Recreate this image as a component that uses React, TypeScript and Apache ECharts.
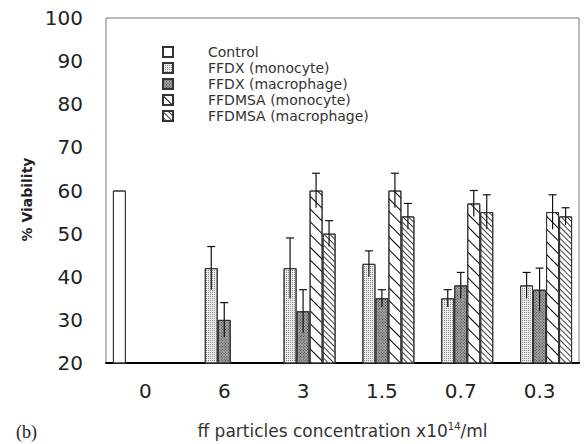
import React, { useEffect, useRef } from "react";
import * as echarts from "echarts";

const categories = ["0", "6", "3", "1.5", "0.7", "0.3"];
const seriesNames = [
  "Control",
  "FFDX (monocyte)",
  "FFDX (macrophage)",
  "FFDMSA (monocyte)",
  "FFDMSA (macrophage)",
];
const controlVals = [60, null, null, null, null, null];
const ffdxMonoVals = [null, 42, 42, 43, 35, 38];
const ffdxMacroVals = [null, 30, 32, 35, 38, 37];
const ffdmsaMonoVals = [null, null, 60, 60, 57, 55];
const ffdmsaMacroVals = [null, null, 50, 54, 55, 54];

const ffdxMonoErr = [0, 5, 7, 3, 2, 3];
const ffdxMacroErr = [0, 4, 5, 2, 3, 5];
const ffdmsaMonoErr = [0, 0, 4, 4, 3, 4];
const ffdmsaMacroErr = [0, 0, 3, 3, 4, 2];

const FONT = "DejaVu Sans";

export default function App() {
  const ref = useRef<HTMLDivElement>(null);
  useEffect(() => {
    if (!ref.current) return;
    const chart = echarts.init(ref.current, undefined, { renderer: "svg" });
    const vals = [controlVals, ffdxMonoVals, ffdxMacroVals, ffdmsaMonoVals, ffdmsaMacroVals];
    const errs = [null, ffdxMonoErr, ffdxMacroErr, ffdmsaMonoErr, ffdmsaMacroErr];
    const errData: number[][] = [];
    for (let k = 1; k < 5; k++) {
      vals[k].forEach((v, ci) => {
        const e = (errs[k] as number[])[ci];
        if (v != null && e > 0) errData.push([ci, k, v as number, e]);
      });
    }
    const styles: any[] = [
      { color: "#ffffff", decal: { symbol: "none" } },
      {
        color: "#ececec",
        decal: { symbol: "rect", symbolSize: 1, dashArrayX: [1, 1], dashArrayY: [1, 1], color: "#8a8a8a" },
      },
      {
        color: "#a8a8a8",
        decal: { symbol: "rect", symbolSize: 1, dashArrayX: [1, 1], dashArrayY: [1, 1], color: "#3a3a3a" },
      },
      {
        color: "#ffffff",
        decal: { symbol: "rect", dashArrayX: [1, 0], dashArrayY: [1, 8], rotation: Math.PI / 4, color: "#000" },
      },
      {
        color: "#ffffff",
        decal: { symbol: "rect", dashArrayX: [1, 0], dashArrayY: [1, 3], rotation: Math.PI / 4, color: "#444" },
      },
    ];
    const barSeries = seriesNames.map((name, k) => ({
      name,
      type: "bar",
      data: vals[k].map((v) => (v == null ? "-" : v)),
      barWidth: 13,
      barGap: "0%",
      itemStyle: { ...styles[k], borderColor: "#333", borderWidth: 1 },
      z: 2,
    }));
    chart.setOption({
      animation: false,
      aria: { enabled: true, decal: { show: true } },
      grid: {
        left: 106,
        top: 18,
        right: 6,
        bottom: 75,
        show: true,
        borderColor: "#777",
        borderWidth: 1,
        backgroundColor: "transparent",
      },
      legend: {
        data: seriesNames,
        orient: "vertical",
        left: 157,
        top: 40,
        itemWidth: 10,
        itemHeight: 10,
        itemGap: 2,
        icon: "rect",
        textStyle: {
          fontFamily: FONT,
          fontSize: 14,
          color: "#333",
          padding: [0, 0, 0, 30],
          lineHeight: 14,
        },
      },
      xAxis: {
        type: "category",
        data: categories,
        axisLine: { lineStyle: { color: "#000", width: 2 } },
        axisTick: { inside: true, length: 11, lineStyle: { color: "#666" } },
        axisLabel: { fontFamily: FONT, fontSize: 20, color: "#222", margin: 18 },
        name: "ff particles concentration x10{sup|14}/ml",
        nameLocation: "middle",
        nameGap: 58,
        nameTextStyle: {
          fontFamily: FONT,
          fontSize: 17,
          color: "#333",
          rich: { sup: { fontFamily: FONT, fontSize: 10, color: "#333", padding: [0, 0, 9, 0] } },
        },
      },
      yAxis: {
        type: "value",
        min: 20,
        max: 100,
        interval: 10,
        axisLine: { show: false },
        axisTick: { show: false },
        splitLine: { show: false },
        axisLabel: { fontFamily: FONT, fontSize: 20, color: "#222", margin: 23 },
        name: "% Viability",
        nameLocation: "middle",
        nameGap: 68,
        nameRotate: 90,
        nameTextStyle: { fontFamily: FONT, fontSize: 14, color: "#222", fontWeight: "bold", padding: [0, 18, 0, 0] },
      },
      graphic: [
        {
          type: "text",
          left: 16,
          top: 423,
          style: { text: "(b)", font: "18px 'Liberation Serif'", fill: "#222" },
        },
      ],
      series: [
        ...barSeries,
        {
          type: "custom",
          name: "err",
          data: errData,
          encode: { x: 0, y: 2 },
          z: 5,
          renderItem: (params: any, api: any) => {
            const ci = api.value(0);
            const k = api.value(1);
            const v = api.value(2);
            const e = api.value(3);
            const top = api.coord([ci, v + e]);
            const bot = api.coord([ci, v - e]);
            const x = top[0] + (k - 2) * 13;
            const st = { stroke: "#111", lineWidth: 1.2 };
            return {
              type: "group",
              children: [
                { type: "line", shape: { x1: x, y1: top[1], x2: x, y2: bot[1] }, style: st },
                { type: "line", shape: { x1: x - 4, y1: top[1], x2: x + 4, y2: top[1] }, style: st },
              ],
            };
          },
        },
      ],
    });
    return () => chart.dispose();
  }, []);
  return <div ref={ref} style={{ width: 585, height: 444, position: "absolute", left: 0, top: 0 }} />;
}
